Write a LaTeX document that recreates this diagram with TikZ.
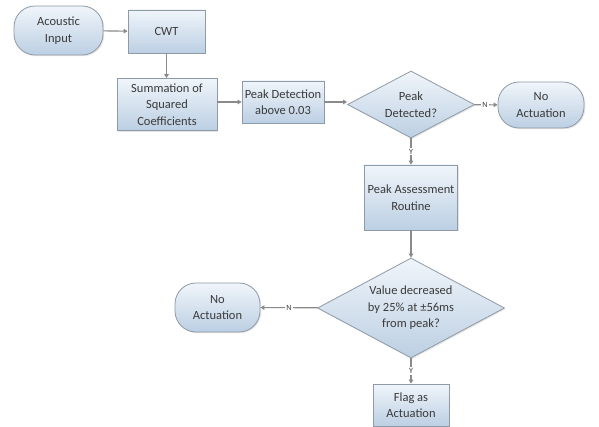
\documentclass[tikz,border=0pt]{standalone}
\usepackage{fontspec}
\setmainfont{Carlito}
\usetikzlibrary{shapes.geometric,arrows.meta,shadows}
\definecolor{boxtop}{HTML}{F0F5FA}
\definecolor{boxbot}{HTML}{BCCFE3}
\definecolor{bordergray}{HTML}{8E9AA6}
\definecolor{textgray}{HTML}{3A3A3A}
\definecolor{linegray}{HTML}{8A8A8A}
\tikzset{
  base/.style={draw=bordergray, line width=0.8pt, top color=boxtop, bottom color=boxbot,
    align=center, text=textgray, font=\fontsize{12.5}{16.5}\selectfont, inner sep=0pt,
    drop shadow={opacity=0.2, shadow xshift=1.2pt, shadow yshift=-1.2pt}},
  procbox/.style={base, rectangle},
  termbox/.style={base, rectangle, rounded corners=21pt},
  decbox/.style={base, diamond, aspect=1.9},
  conn/.style={draw=linegray, line width=1.1pt, -{Triangle[width=4.5pt,length=4pt]}},
  lbl/.style={fill=white, text=textgray, font=\fontsize{8}{9}\selectfont, inner sep=1.2pt}
}
\begin{document}
\begin{tikzpicture}[x=1pt,y=1pt]
\useasboundingbox[fill=white] (0,0) rectangle (599,-427);
\node[termbox, minimum width=89pt, minimum height=49pt] (ai) at (58.5,-30.5) {Acoustic\\Input};
\node[procbox, minimum width=77pt, minimum height=43pt] (cwt) at (166.5,-31.5) {CWT};
\node[procbox, minimum width=100pt, minimum height=52pt] (sum) at (167,-104.5) {Summation of\\Squared\\Coefficients};
\node[procbox, minimum width=82pt, minimum height=42pt] (pd) at (283,-102) {Peak Detection\\above 0.03};
\node[decbox, minimum width=127pt, minimum height=67pt] (d1) at (411,-104.5) {Peak\\Detected?};
\node[termbox, minimum width=86pt, minimum height=46pt] (no1) at (541,-105) {No\\Actuation};
\node[procbox, minimum width=93pt, minimum height=65pt] (pa) at (411,-197.5) {Peak Assessment\\Routine};
\node[decbox, minimum width=187pt, minimum height=100pt] (d2) at (411,-308) {Value decreased\\by 25\% at ±56ms\\from peak?};
\node[termbox, minimum width=85pt, minimum height=49pt] (no2) at (217.5,-307.5) {No\\Actuation};
\node[procbox, minimum width=76pt, minimum height=42pt] (flag) at (411,-405) {Flag as\\Actuation};

\draw[conn] (ai) -- (cwt);
\draw[conn] (cwt) -- (cwt |- sum.north);
\draw[conn] (sum.east |- pd) -- (pd);
\draw[conn] (pd) -- (pd -| d1.west);
\draw[conn] (d1) -- node[lbl, pos=0.45]{N} (no1);
\draw[conn] (d1) -- node[lbl, pos=0.5]{Y} (pa);
\draw[conn] (pa) -- (d2);
\draw[conn] (d2) -- node[lbl, pos=0.5]{N} (no2);
\draw[conn] (d2) -- node[lbl, pos=0.5]{Y} (flag);
\end{tikzpicture}
\end{document}
